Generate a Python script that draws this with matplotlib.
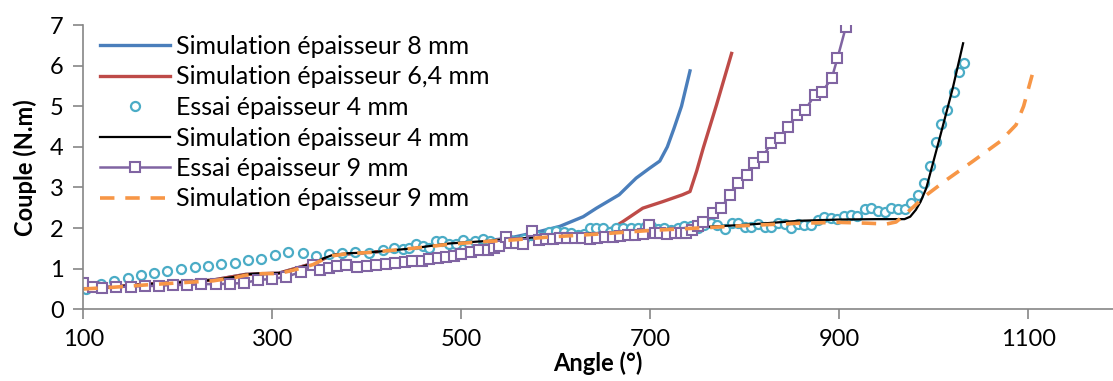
import matplotlib
matplotlib.use("Agg")
import matplotlib.pyplot as plt

plt.rcParams['font.family'] = ['Lato', 'DejaVu Sans']

# Simulation épaisseur 8 mm
sim8_x = [100, 130, 166, 200, 237, 272, 307, 343, 364, 403, 448, 487, 519, 550, 580, 604, 629, 643, 667, 685,
          699, 710, 718, 725, 733, 742]
sim8_y = [0.50, 0.55, 0.62, 0.66, 0.72, 0.86, 0.89, 1.13, 1.34, 1.40, 1.50, 1.62, 1.67, 1.75, 1.90, 2.04, 2.28, 2.49,
          2.82, 3.23, 3.47, 3.65, 4.0, 4.45, 5.0, 5.87]

# Simulation épaisseur 6,4 mm
sim64_x = [100, 130, 166, 200, 237, 272, 307, 343, 364, 403, 448, 487, 519, 550, 593, 640, 660, 671, 692, 713,
           734, 742, 749, 756, 770, 786]
sim64_y = [0.50, 0.55, 0.62, 0.66, 0.72, 0.86, 0.89, 1.13, 1.34, 1.40, 1.50, 1.62, 1.67, 1.72, 1.80, 1.90, 2.0, 2.16,
           2.49, 2.65, 2.82, 2.90, 3.4, 3.97, 5.03, 6.3]

# Essai épaisseur 4 mm (points)
essai4_x = [103, 119, 133, 147, 161, 175, 189, 203, 218, 232, 246, 260, 274, 288, 303, 317, 332, 346, 360, 374,
            388, 402, 417, 429, 438, 445, 452, 459, 466, 473, 480, 487, 494, 502, 508, 515, 523, 530, 538, 546,
            552, 558, 566, 574, 580, 586, 593, 600, 609, 616, 623, 630, 636, 643, 650, 657, 664, 671, 680, 687,
            694, 701, 708, 715, 722, 729, 736, 743, 750, 757, 764, 771, 779, 786, 793, 800, 807, 814, 821, 828,
            835, 842, 849, 856, 863, 870, 877, 884, 891, 898, 905, 912, 919, 927, 934, 941, 948, 955, 962, 969,
            976, 983, 990, 996, 1002, 1008, 1014, 1021, 1027, 1032]
essai4_y = [0.50, 0.62, 0.70, 0.78, 0.85, 0.89, 0.94, 0.99, 1.03, 1.07, 1.11, 1.13, 1.21, 1.23, 1.34, 1.40, 1.38,
            1.32, 1.35, 1.38, 1.40, 1.38, 1.46, 1.50, 1.49, 1.52, 1.60, 1.55, 1.50, 1.67, 1.68, 1.60, 1.62, 1.71,
            1.62, 1.67, 1.73, 1.69, 1.62, 1.75, 1.70, 1.69, 1.72, 1.83, 1.80, 1.77, 1.91, 1.93, 1.91, 1.87, 1.83,
            1.85, 2.0, 2.0, 2.0, 1.91, 2.0, 2.0, 2.0, 2.0, 2.02, 2.05, 1.98, 2.0, 1.96, 2.0, 2.04, 2.04, 2.0, 2.07,
            2.13, 2.07, 1.98, 2.12, 2.13, 2.02, 2.02, 2.1, 2.02, 2.02, 2.12, 2.09, 2.0, 2.09, 2.08, 2.08, 2.2,
            2.28, 2.24, 2.22, 2.3, 2.32, 2.3, 2.47, 2.5, 2.41, 2.39, 2.49, 2.47, 2.47, 2.61, 2.82, 3.1, 3.54,
            4.11, 4.56, 4.91, 5.36, 5.85, 6.06]

# Simulation épaisseur 4 mm
sim4_x = [100, 130, 166, 200, 237, 260, 272, 290, 307, 325, 343, 355, 364, 380, 403, 448, 487, 519, 550, 593,
          650, 699, 750, 800, 858, 900, 940, 969, 975, 981, 986, 992, 1006, 1020, 1031]
sim4_y = [0.50, 0.55, 0.62, 0.66, 0.72, 0.80, 0.86, 0.89, 0.89, 1.0, 1.13, 1.26, 1.34, 1.38, 1.40, 1.50, 1.62,
          1.67, 1.72, 1.80, 1.88, 1.95, 2.02, 2.08, 2.18, 2.21, 2.22, 2.22, 2.28, 2.45, 2.65, 2.98, 4.2, 5.44, 6.55]

# Essai épaisseur 9 mm
essai9_x = [100, 110, 120, 135, 150, 165, 180, 195, 210, 225, 240, 255, 270, 285, 300, 315, 330, 343, 350, 360,
            368, 378, 390, 400, 410, 420, 430, 440, 448, 458, 466, 475, 484, 492, 500, 510, 519, 528, 535, 540,
            547, 552, 558, 565, 575, 582, 590, 597, 604, 612, 620, 628, 636, 644, 652, 660, 668, 676, 684, 692,
            699, 705, 710, 718, 726, 732, 738, 744, 750, 756, 766, 775, 784, 793, 802, 810, 819, 828, 837, 846,
            855, 864, 874, 882, 892, 898, 907]
essai9_y = [0.64, 0.55, 0.53, 0.55, 0.56, 0.57, 0.58, 0.60, 0.60, 0.62, 0.62, 0.63, 0.65, 0.72, 0.75, 0.80, 0.92,
            1.09, 0.97, 1.02, 1.06, 1.08, 1.04, 1.06, 1.08, 1.12, 1.14, 1.16, 1.18, 1.20, 1.24, 1.26, 1.30, 1.32,
            1.35, 1.40, 1.46, 1.45, 1.50, 1.55, 1.79, 1.63, 1.63, 1.60, 1.92, 1.70, 1.72, 1.74, 1.75, 1.76, 1.75,
            1.75, 1.73, 1.76, 1.77, 1.79, 1.80, 1.82, 1.84, 1.86, 2.08, 1.87, 1.87, 1.86, 1.87, 1.88, 1.87, 1.95,
            2.05, 2.16, 2.36, 2.49, 2.82, 3.1, 3.31, 3.6, 3.76, 4.09, 4.21, 4.5, 4.79, 4.91, 5.28, 5.36, 5.69,
            6.18, 6.96]

# Simulation épaisseur 9 mm
sim9_x = [100, 130, 166, 200, 237, 260, 272, 290, 307, 325, 343, 355, 364, 380, 403, 448, 487, 519, 550, 593,
          650, 699, 750, 800, 858, 900, 930, 950, 960, 968, 975, 992, 1013, 1041, 1070, 1087, 1095, 1105]
sim9_y = [0.50, 0.54, 0.60, 0.65, 0.70, 0.78, 0.84, 0.88, 0.88, 0.98, 1.10, 1.24, 1.32, 1.37, 1.40, 1.50, 1.60,
          1.66, 1.70, 1.78, 1.86, 1.94, 2.0, 2.06, 2.12, 2.14, 2.12, 2.10, 2.15, 2.30, 2.45, 2.81, 3.18, 3.64,
          4.13, 4.54, 5.0, 5.85]

fig = plt.figure(figsize=(11.13, 3.81), dpi=100)
ax = fig.add_axes([83.3 / 1113, (381 - 309.3) / 381, (1113 - 83.3) / 1113, (309.3 - 25) / 381])

ax.plot(sim8_x, sim8_y, color='#4A7EBB', lw=2.4, label='Simulation épaisseur 8 mm')
ax.plot(sim64_x, sim64_y, color='#BE4B48', lw=2.4, label='Simulation épaisseur 6,4 mm')
ax.plot(essai4_x, essai4_y, ls='none', marker='o', ms=6.5, mfc='white', mec='#4BACC6', mew=1.6,
        label='Essai épaisseur 4 mm')
ax.plot(sim4_x, sim4_y, color='black', lw=1.6, label='Simulation épaisseur 4 mm')
ax.plot(essai9_x, essai9_y, color='#8064A2', lw=1.8, marker='s', ms=6.5, mfc='white', mec='#8064A2', mew=1.5,
        label='Essai épaisseur 9 mm')
ax.plot(sim9_x, sim9_y, color='#F79646', lw=2.6, ls=(0, (4, 3)), label='Simulation épaisseur 9 mm')

ax.set_xlim(100, 1189.6)
ax.set_ylim(0, 7)
ax.set_xticks([100, 300, 500, 700, 900, 1100])
ax.set_yticks(range(0, 8))

for s in ['top', 'right']:
    ax.spines[s].set_visible(False)
for s in ['left', 'bottom']:
    ax.spines[s].set_color('#868686')
    ax.spines[s].set_linewidth(1.2)
ax.tick_params(direction='out', length=7, width=1.2, color='#868686', labelsize=17, pad=7)

ax.set_xlabel('Angle (°)', fontsize=17, fontweight='bold', labelpad=1.5)
ax.set_ylabel('Couple (N.m)', fontsize=17, fontweight='bold', labelpad=9.5)

fig.legend(loc='upper left', bbox_to_anchor=(100 / 1113, 1 - 35 / 381), frameon=False, fontsize=18,
           handlelength=2.8, handletextpad=0.25, labelspacing=0.3, borderpad=0, borderaxespad=0)

plt.savefig('out.png', dpi=100)
